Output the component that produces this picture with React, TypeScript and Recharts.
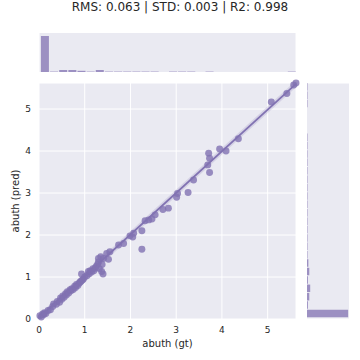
import React from 'react'
import { ComposedChart, BarChart, Bar, Scatter, Line, XAxis, YAxis, ZAxis, CartesianGrid } from 'recharts'

// abuth (gt) vs abuth (pred)
const gt = [
  0.02, 0.05, 0.08, 0.1, 0.12, 0.15, 0.2, 0.25, 0.3, 0.32, 0.38, 0.4, 0.45, 0.47, 0.5, 0.52, 0.55, 0.58,
  0.6, 0.62, 0.65, 0.68, 0.7, 0.72, 0.75, 0.78, 0.8, 0.82, 0.85, 0.88, 0.9, 0.92, 0.95, 0.97, 0.93, 1.0,
  1.05, 1.08, 1.1, 1.12, 1.15, 1.18, 1.2, 1.23, 1.25, 1.28, 1.3, 1.3, 1.32, 1.35, 1.37, 1.38, 1.4, 1.41,
  1.48, 1.52, 1.55, 1.74, 1.85, 1.99, 2.05, 2.07, 2.25, 2.25, 2.32, 2.4, 2.47, 2.54, 2.71, 2.83, 3.01,
  3.03, 3.26, 3.38, 3.69, 3.73, 3.73, 3.71, 3.95, 4.09, 4.36, 5.08, 5.42, 5.57, 5.62,
]
const pred = [
  0.08, 0.05, 0.12, 0.1, 0.15, 0.13, 0.2, 0.22, 0.3, 0.36, 0.35, 0.42, 0.4, 0.5, 0.47, 0.55, 0.52, 0.6,
  0.57, 0.65, 0.62, 0.7, 0.67, 0.72, 0.7, 0.78, 0.75, 0.82, 0.8, 0.85, 0.88, 0.9, 0.93, 0.95, 1.07, 1.0,
  1.03, 1.13, 1.08, 1.15, 1.12, 1.2, 1.15, 1.21, 1.25, 1.3, 1.36, 1.44, 1.2, 1.48, 1.13, 1.3, 1.07, 1.44,
  1.56, 1.42, 1.6, 1.76, 1.8, 1.98, 1.95, 2.04, 2.1, 1.66, 2.34, 2.36, 2.38, 2.48, 2.61, 2.64, 2.9,
  2.99, 3.01, 3.31, 3.67, 3.49, 3.83, 3.95, 4.05, 4.0, 4.29, 5.17, 5.37, 5.57, 5.62,
]

// fitted regression line ends
const fitX = [0, 5.62]
const fitY = [0.03, 5.6]

// marginal histograms
const binCenters = [
  0.12, 0.32, 0.52, 0.72, 0.92, 1.12, 1.32, 1.52, 1.72, 1.92, 2.12, 2.32, 2.52, 2.72,
  2.92, 3.12, 3.32, 3.52, 3.72, 3.92, 4.12, 4.32, 4.52, 4.72, 4.92, 5.12, 5.32, 5.52,
]
const gtCounts = [90, 1, 5, 5, 3, 1, 5, 1, 1, 1, 1, 1, 1, 0, 1, 1, 1, 0, 1, 0, 0, 0, 0, 0, 0, 0, 0, 1]
const predCounts = [90, 2, 5, 7, 2, 5, 3, 1, 1, 1, 1, 1, 1, 1, 1, 1, 1, 1, 1, 1, 1, 1, 0, 0, 0, 1, 1, 1]

const ticks = [0, 1, 2, 3, 4, 5]
const maxVal = 5.62

const points = gt.map((x, i) => ({ x, y: pred[i] }))
const fit = fitX.map((x, i) => ({ x, y: fitY[i] }))
const topHist = binCenters.map((x, i) => ({ x, n: gtCounts[i] }))
const rightHist = binCenters.map((y, i) => ({ y, n: predCounts[i] }))

const purple = '#8172B2'
const bg = '#EAEAF2'
const font = 'DejaVu Sans'
const tickStyle = { fontSize: 9, fill: '#262626', fontFamily: font }

const App: React.FC = () => {
  return (
    <div style={{ position: 'absolute', left: 0, top: 0, width: 360, height: 360, background: '#fff', fontFamily: font }}>
      <div style={{ position: 'absolute', top: 0, left: 0, width: 360, textAlign: 'center', fontSize: 12, lineHeight: '14px', color: '#262626' }}>
        RMS: 0.063 | STD: 0.003 | R2: 0.998
      </div>

      <div style={{ position: 'absolute', left: 39, top: 33 }}>
        <BarChart width={257} height={39} data={topHist} margin={{ top: 0, right: 0, bottom: 0, left: 0 }} barGap={0}>
          <CartesianGrid horizontal={false} stroke="#fff" fill={bg} />
          <XAxis type="number" dataKey="x" domain={[0, maxVal]} ticks={ticks} tick={false} axisLine={false} tickLine={false} height={0} />
          <YAxis hide domain={[0, 97.5]} />
          <Bar dataKey="n" fill={purple} fillOpacity={0.75} barSize={8} isAnimationActive={false} />
        </BarChart>
      </div>

      <div style={{ position: 'absolute', left: 307, top: 83 }}>
        <BarChart width={42} height={236} data={rightHist} layout="vertical" margin={{ top: 0, right: 0, bottom: 0, left: 0 }} barGap={0}>
          <CartesianGrid vertical={false} stroke="#fff" fill={bg} />
          <YAxis type="number" dataKey="y" domain={[0, maxVal]} ticks={ticks} reversed tick={false} axisLine={false} tickLine={false} width={0} />
          <XAxis type="number" hide domain={[0, 92]} />
          <Bar dataKey="n" fill={purple} fillOpacity={0.75} barSize={7.5} isAnimationActive={false} />
        </BarChart>
      </div>

      <div style={{ position: 'absolute', left: 0, top: 0 }}>
        <ComposedChart width={360} height={360} margin={{ top: 83, right: 64, bottom: 11, left: 9 }}>
          <CartesianGrid stroke="#fff" fill={bg} />
          <XAxis
            type="number"
            dataKey="x"
            domain={[0, maxVal]}
            ticks={ticks}
            axisLine={false}
            tickLine={false}
            tick={tickStyle}
            height={30}
            label={{ value: 'abuth (gt)', position: 'insideBottom', offset: 2, style: { fontSize: 10, fill: '#262626', fontFamily: font } }}
          />
          <YAxis
            type="number"
            dataKey="y"
            domain={[0, maxVal]}
            ticks={ticks}
            axisLine={false}
            tickLine={false}
            tick={tickStyle}
            width={30}
            label={{ value: 'abuth (pred)', angle: -90, position: 'insideLeft', offset: 6, style: { fontSize: 10, fill: '#262626', fontFamily: font, textAnchor: 'middle' } }}
          />
          <ZAxis range={[38, 38]} />
          <Scatter data={points} fill={purple} fillOpacity={0.8} isAnimationActive={false} />
          <Line data={fit} dataKey="y" type="linear" stroke={purple} strokeOpacity={0.2} strokeWidth={5} dot={false} activeDot={false} isAnimationActive={false} />
          <Line data={fit} dataKey="y" type="linear" stroke={purple} strokeWidth={1.8} dot={false} activeDot={false} isAnimationActive={false} />
        </ComposedChart>
      </div>
    </div>
  )
}

export default App
